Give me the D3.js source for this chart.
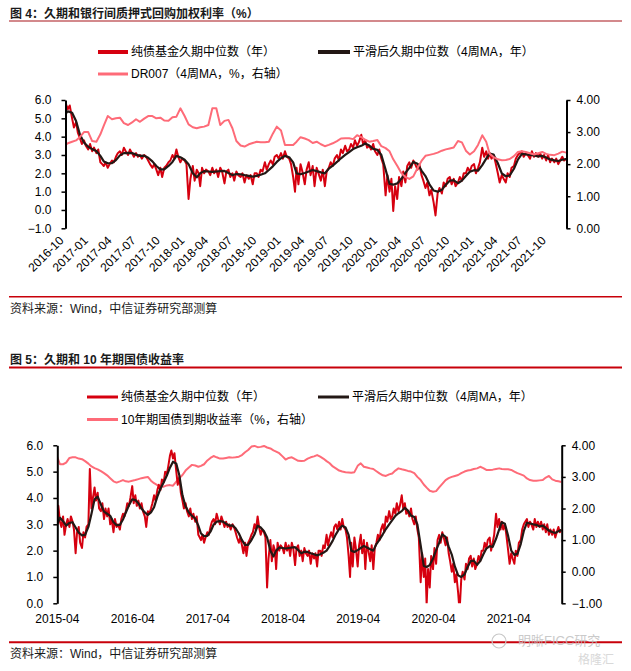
<!DOCTYPE html>
<html>
<head>
<meta charset="utf-8">
<script src="https://cdn.jsdelivr.net/npm/d3@7"></script>
<style>
  body { margin: 0; background: #fff; }
</style>
</head>
<body>
<svg id="chart" width="631" height="671"></svg>
<script>
// fund duration median, weekly readings (days 1, 8, 16, 23 of each month), from 2015-04
var durStart = "2015-04";
var durRaw = [
  3.0, 3.7, 3.1, 2.9,   3.3, 2.6, 3.0, 3.2,   2.9, 3.3, 3.1, 2.8,   // 2015-04..06
  1.9, 2.7, 2.9, 2.3,   2.1, 2.7, 2.5, 2.9,   3.0, 5.1, 3.6, 4.0,   // 2015-07..09
  4.4, 3.9, 4.2, 3.6,   3.5, 3.8, 3.2, 3.6,   3.3, 3.6, 3.0, 3.2,   // 2015-10..12
  2.7, 3.2, 2.9, 3.0,   2.8, 3.2, 3.4, 3.3,   3.5, 3.8, 3.7, 4.0,   // 2016-01..03
  4.45, 3.8, 4.1, 3.7,  3.9, 3.6, 3.8, 3.5,   3.3, 2.9, 3.5, 3.4,   // 2016-04..06
  3.6, 3.8, 4.1, 3.9,   4.3, 4.5, 4.3, 4.7,   4.6, 5.0, 4.9, 5.2,   // 2016-07..09
  5.6, 5.8, 5.5, 5.7,   5.0, 4.5, 4.8, 4.2,   3.9, 3.6, 3.8, 3.5,   // 2016-10..12
  3.3, 3.6, 3.2, 3.4,   3.1, 3.3, 2.6, 2.5,   2.4, 2.6, 2.3, 2.5,   // 2017-01..03
  2.7, 2.6, 2.9, 3.1,   3.2, 3.0, 3.4, 3.2,   3.0, 3.3, 3.1, 2.9,   // 2017-04..06
  3.1, 2.9, 3.0, 2.8,   3.0, 2.9, 2.7, 2.5,   2.3, 2.5, 2.2, 1.9,   // 2017-07..09
  2.3, 1.8, 2.3, 2.4,   2.6, 2.7, 3.0, 2.8,   3.3, 2.9, 2.6, 2.8,   // 2017-10..12
  2.7, 2.5, 0.6, 1.7,   2.4, 1.6, 2.2, 2.0,   1.3, 2.3, 2.0, 2.2,   // 2018-01..03
  2.1, 1.9, 2.3, 2.0,   2.2, 1.8, 2.3, 2.1,   1.45, 2.1, 2.2, 1.8,  // 2018-04..06
  2.0, 1.6, 2.1, 1.9,   1.8, 2.0, 1.5, 1.9,   1.7, 1.9, 1.4, 2.0,   // 2018-07..09
  2.0, 1.8, 2.2, 2.1,   2.6, 2.2, 2.5, 2.7,   2.5, 2.9, 3.0, 2.8,   // 2018-10..12
  3.1, 2.8, 3.2, 2.9,   2.8, 2.5, 1.8, 1.0,   2.3, 1.4, 2.5, 2.1,   // 2019-01..03
  1.4, 2.2, 2.6, 1.9,   2.4, 1.3, 2.3, 2.0,   1.6, 2.2, 1.3, 2.1,   // 2019-04..06
  2.3, 2.6, 2.4, 2.8,   3.0, 2.7, 3.3, 3.1,   3.5, 3.2, 3.3, 3.6,   // 2019-07..09
  3.4, 3.8, 3.5, 3.7,   4.1, 3.6, 3.8, 3.4,   3.5, 3.3, 3.6, 3.2,   // 2019-10..12
  3.0, 3.3, 2.8, 2.5,   0.8, 1.9, 1.0, 1.7,   -0.05, 1.3, 0.6, 1.8, // 2020-01..03
  1.3, 2.1, 1.5, 2.4,   2.6, 2.3, 2.7, 2.5,   2.2, 2.5, 1.9, 1.6,   // 2020-04..06
  1.2, 1.5, 0.8, 1.1,   0.4, -0.3, 0.9, 1.2,  0.9, 1.5, 1.3, 1.7,   // 2020-07..09
  1.8, 1.4, 1.7, 1.3,   1.5, 1.8, 1.6, 2.0,   2.0, 2.3, 2.1, 2.4,   // 2020-10..12
  2.5, 2.0, 2.3, 2.6,   3.4, 2.9, 3.2, 2.8,   3.1, 2.8, 3.0, 2.6,   // 2021-01..03
  2.0, 1.5, 1.9, 1.7,   1.5, 2.0, 1.8, 2.3,   2.4, 2.8, 3.0, 3.1,   // 2021-04..06
  3.2, 2.9, 3.1, 3.0,   2.8, 3.2, 2.9, 3.1,   2.9, 3.1, 2.8, 3.0,   // 2021-07..09
  2.7, 3.0, 2.6, 2.8,   2.6, 2.8, 2.5, 2.7,   2.9, 2.7, 2.8         // 2021-10..12
];

// smoothed duration (4 week MA), half-monthly readings (days 1, 16), from 2015-04
var durSmooth = [
  2.97, 3.25,  3.12, 2.95,  3.05, 3.08,  2.88, 2.68,  2.58, 2.60,  2.90, 3.40,   // 2015-04..09
  3.95, 4.05,  3.75, 3.48,  3.40, 3.32,                                          // 2015-10..12
  3.08, 2.97,  2.98, 3.18,  3.45, 3.72,  3.95, 3.92,  3.80, 3.60,  3.45, 3.36,   // 2016-01..06
  3.45, 3.65,  4.05, 4.35,  4.60, 4.85,  5.15, 5.38,  5.30, 4.85,  4.10, 3.68,   // 2016-07..12
  3.45, 3.32,  3.22, 2.95,  2.65, 2.55,  2.56, 2.72,  2.98, 3.10,  3.12, 3.10,   // 2017-01..06
  3.02, 2.95,  2.96, 2.85,  2.65, 2.40,  2.22, 2.22,  2.40, 2.62,  2.95, 2.88,   // 2017-07..12
  2.74, 2.50,  2.00, 1.78,  2.00, 2.12,  2.10, 2.08,  2.10, 2.12,  2.13, 2.02,   // 2018-01..06
  1.90, 1.96,  1.95, 1.90,  1.86, 1.82,  1.86, 1.92,  2.00, 2.18,  2.38, 2.62,   // 2018-07..12
  2.82, 2.95,  2.88, 2.60,  2.00, 1.95,  2.02, 2.10,  2.18, 2.12,  2.05, 2.00,   // 2019-01..06
  2.25, 2.42,  2.62, 2.82,  3.00, 3.16,  3.32, 3.42,  3.50, 3.63,  3.52, 3.33,   // 2019-07..12
  3.28, 3.00,  2.20, 1.42,  1.38, 1.45,  1.70, 2.02,  2.30, 2.62,  2.52, 2.15,   // 2020-01..06
  1.85, 1.40,  1.06, 1.00,  1.10, 1.38,  1.60, 1.62,  1.46, 1.60,  1.85, 2.08,   // 2020-07..12
  2.17, 2.14,  2.45, 2.80,  3.08, 3.02,  2.55, 2.00,  1.84, 1.88,  2.25, 2.75,   // 2021-01..06
  3.06, 3.03,  3.00, 2.98,  2.92, 2.95,  2.86, 2.76,  2.71, 2.67,  2.74, 2.78    // 2021-07..12
];

// DR007 4 week MA (%), half-monthly readings, from 2016-10
var drStart = "2016-10";
var dr007 = [
  2.58, 2.65,  2.70, 2.74,  2.85, 3.00,                                          // 2016-10..12
  3.00, 2.72,  2.70, 2.93,  3.20, 3.50,  3.40, 3.43,  3.45, 3.28,  3.22, 3.30,   // 2017-01..06
  3.40, 3.32,  3.42, 3.50,  3.50, 3.43,  3.45, 3.36,  3.35, 3.46,  3.48, 3.74,   // 2017-07..12
  3.50, 3.24,  3.15, 3.12,  3.15, 3.17,  3.22, 3.74,  3.74, 3.22,  3.35, 3.38,   // 2018-01..06
  3.12, 2.72,  2.58, 2.55,  2.62, 2.66,  2.70, 2.68,  2.68, 2.70,  2.95, 3.17,   // 2018-07..12
  3.05, 2.60,  2.60, 2.60,  2.70, 2.84,  2.80, 2.75,  2.66, 2.70,  2.62, 2.56,   // 2019-01..06
  2.60, 2.65,  2.72, 2.80,  2.81, 2.81,  2.78, 2.90,  2.84, 2.76,  2.70, 2.72,   // 2019-07..12
  2.75, 2.56,  2.50, 2.40,  2.15, 1.95,  1.72, 1.60,  1.54, 1.62,  1.88, 2.10,   // 2020-01..06
  2.26, 2.29,  2.32, 2.36,  2.42, 2.46,  2.49, 2.52,  2.72, 2.68,  2.42, 2.30,   // 2020-07..12
  2.40, 2.60,  2.90, 2.70,  2.32, 2.22,  2.15, 2.12,  2.13, 2.16,  2.25, 2.38,   // 2021-01..06
  2.40, 2.38,  2.34, 2.30,  2.34, 2.38,  2.32, 2.29,  2.28, 2.33,  2.39, 2.36    // 2021-07..12
];

// 10 year government bond yield (%), half-monthly readings, from 2015-04
var cgbStart = "2015-04";
var cgb10y = [
  3.66, 3.40,  3.40, 3.45,  3.60, 3.62,  3.62, 3.58,  3.56, 3.50,  3.42, 3.33,   // 2015-04..09
  3.28, 3.24,  3.18, 3.12,  3.05, 2.96,                                          // 2015-10..12
  2.86, 2.82,  2.86, 2.90,  2.86, 2.85,  2.88, 2.90,  2.93, 2.96,  2.98, 3.00,   // 2016-01..06
  2.88, 2.80,  2.74, 2.70,  2.69, 2.73,  2.74, 2.72,  2.85, 2.96,  3.06, 3.20,   // 2016-07..12
  3.30, 3.38,  3.36, 3.32,  3.35, 3.40,  3.52, 3.60,  3.66, 3.62,  3.58, 3.58,   // 2017-01..06
  3.60, 3.62,  3.61, 3.62,  3.64, 3.69,  3.78, 3.85,  3.96, 3.98,  3.94, 3.95,   // 2017-07..12
  3.98, 3.93,  3.90, 3.84,  3.80, 3.75,  3.65, 3.55,  3.60, 3.62,  3.56, 3.51,   // 2018-01..06
  3.50, 3.51,  3.58, 3.62,  3.65, 3.69,  3.64, 3.58,  3.50, 3.43,  3.33, 3.27,   // 2018-07..12
  3.20, 3.17,  3.15, 3.14,  3.13, 3.15,  3.35, 3.43,  3.32, 3.30,  3.27, 3.25,   // 2019-01..06
  3.18, 3.11,  3.05, 3.03,  3.08, 3.11,  3.20, 3.27,  3.24, 3.22,  3.19, 3.17,   // 2019-07..12
  3.12, 3.00,  2.90, 2.76,  2.66, 2.56,  2.53, 2.55,  2.67, 2.78,  2.90, 2.96,   // 2020-01..06
  3.00, 3.03,  3.06, 3.12,  3.17, 3.20,  3.22, 3.25,  3.27, 3.32,  3.28, 3.22,   // 2020-07..12
  3.22, 3.23,  3.25, 3.27,  3.25, 3.24,  3.24, 3.22,  3.17, 3.12,  3.08, 3.04,   // 2021-01..06
  2.95, 2.90,  2.88, 2.88,  2.89, 2.90,  2.98, 3.03,  2.92, 2.88,  2.86, 2.84    // 2021-07..12
];

var ticks1 = ["2016-10", "2017-01", "2017-04", "2017-07", "2017-10", "2018-01", "2018-04",
              "2018-07", "2018-10", "2019-01", "2019-04", "2019-07", "2019-10", "2020-01",
              "2020-04", "2020-07", "2020-10", "2021-01", "2021-04", "2021-07", "2021-10"];
var ticks2 = ["2015-04", "2016-04", "2017-04", "2018-04", "2019-04", "2020-04", "2021-04"];

var FONT = "'Liberation Sans', Arial, 'Noto Sans CJK SC', sans-serif";
var RED = '#d6000f', BLACK = '#231815', PINK = '#fe6b78';

var parseMonth = d3.timeParse('%Y-%m');
var parseDay = d3.timeParse('%Y-%m-%d');

function monthDates(start, n, days){
    var t0 = parseMonth(start);
    return d3.range(n).map(function(i){
        return new Date(t0.getFullYear(), t0.getMonth() + Math.floor(i / days.length), days[i % days.length]);
    });
}

function pairs(dates, values){
    return values.map(function(v, i){ return {date: dates[i], value: v}; });
}

var rawSeries = pairs(monthDates(durStart, durRaw.length, [1, 8, 16, 23]), durRaw);
var smoothSeries = pairs(monthDates(durStart, durSmooth.length, [1, 16]), durSmooth);
var drSeries = pairs(monthDates(drStart, dr007.length, [1, 16]), dr007);
var cgbSeries = pairs(monthDates(cgbStart, cgb10y.length, [1, 16]), cgb10y);

var svg = d3.select('#chart');
svg.append('rect').attr('width', 631).attr('height', 671).attr('fill', '#fff');

function addText(x, y, str, size, color, weight){
    return svg.append('text')
              .attr('x', x).attr('y', y)
              .attr('dominant-baseline', 'central')
              .style('font-family', FONT)
              .style('font-size', size + 'px')
              .style('font-weight', weight || 'normal')
              .attr('fill', color || '#000')
              .text(str);
}

function addRule(y, color, width){
    svg.append('line').attr('x1', 9).attr('x2', 622).attr('y1', y).attr('y2', y)
       .attr('stroke', color).attr('stroke-width', width);
}

function legendItem(x, y, len, color, sw, label){
    svg.append('line').attr('x1', x).attr('x2', x + len).attr('y1', y).attr('y2', y)
       .attr('stroke', color).attr('stroke-width', sw);
    addText(x + len + 3, y, label, 12, '#000');
}

function drawChart(cfg){
    var x = d3.scaleTime().domain(cfg.xDomain).range([cfg.left, cfg.right]);
    var yL = d3.scaleLinear().domain(cfg.yLeft).range([cfg.bottom, cfg.top]);
    var yR = d3.scaleLinear().domain(cfg.yRight).range([cfg.bottom, cfg.top]);

    svg.append('clipPath').attr('id', cfg.id)
       .append('rect')
       .attr('x', cfg.left).attr('y', cfg.top - 10)
       .attr('width', cfg.right - cfg.left).attr('height', cfg.bottom - cfg.top + 10);

    var plot = svg.append('g').attr('clip-path', 'url(#' + cfg.id + ')');

    cfg.series.forEach(function(s){
        var y = s.axis === 'R' ? yR : yL;
        var line = d3.line()
                     .x(function(d){ return x(d.date); })
                     .y(function(d){ return y(d.value); });
        plot.append('path')
            .datum(s.data)
            .attr('d', line)
            .attr('fill', 'none')
            .attr('stroke', s.color)
            .attr('stroke-width', s.width)
            .attr('stroke-linejoin', 'round');
    });

    var leftAxis = svg.append('g')
                      .attr('transform', 'translate(' + cfg.left + ',0)')
                      .call(d3.axisLeft(yL).tickValues(cfg.leftTicks)
                                            .tickFormat(d3.format('.1f'))
                                            .tickSize(4).tickSizeOuter(0).tickPadding(10));
    var rightAxis = svg.append('g')
                       .attr('transform', 'translate(' + cfg.right + ',0)')
                       .call(d3.axisRight(yR).tickValues(cfg.rightTicks)
                                              .tickFormat(d3.format('.2f'))
                                              .tickSize(4).tickSizeOuter(0).tickPadding(6));
    [leftAxis, rightAxis].forEach(function(a){
        a.select('.domain').attr('stroke', '#000').attr('stroke-width', 2);
        a.selectAll('.tick line').attr('stroke', '#000').attr('stroke-width', 1.5);
        a.selectAll('text').style('font-family', FONT).style('font-size', '12px').attr('fill', '#000');
    });

    var bottom = svg.append('g')
                    .attr('transform', 'translate(0,' + cfg.bottom + ')')
                    .call(d3.axisBottom(x).tickValues(cfg.xTicks.map(parseMonth))
                                          .tickFormat(d3.timeFormat('%Y-%m'))
                                          .tickSize(0).tickPadding(cfg.xPad));
    bottom.select('.domain').remove();
    bottom.selectAll('text').style('font-family', FONT).style('font-size', '12px').attr('fill', '#000');
    if (cfg.rotate){
        bottom.selectAll('text')
              .attr('y', 0).attr('dy', 0)
              .attr('text-anchor', 'end')
              .attr('transform', 'translate(0,' + cfg.xPad + ') rotate(-45)');
    }
}

// ---- chart 1
addText(10, 14, '图 4：久期和银行间质押式回购加权利率（%）', 12, '#1a1a1a', 'bold');
addRule(21, '#a8151a', 1.2);
legendItem(98, 52, 30, RED, 4, '纯债基金久期中位数（年）');
legendItem(318, 52, 32, BLACK, 4, '平滑后久期中位数（4周MA，年）');
legendItem(98, 74, 30, PINK, 3, 'DR007（4周MA，%，右轴）');

drawChart({
    id: 'clip1',
    left: 65.5, right: 566.5, top: 100, bottom: 228.3,
    xDomain: [parseDay('2016-10-07'), parseDay('2021-12-17')],
    yLeft: [-1, 6], yRight: [0, 4],
    leftTicks: [-1, 0, 1, 2, 3, 4, 5, 6],
    rightTicks: [0, 1, 2, 3, 4],
    xTicks: ticks1, xPad: 13, rotate: true,
    series: [
        {data: rawSeries, axis: 'L', color: RED, width: 2},
        {data: smoothSeries, axis: 'L', color: BLACK, width: 2.2},
        {data: drSeries, axis: 'R', color: PINK, width: 2}
    ]
});

addRule(296.7, '#c8000a', 1.5);
addText(10, 308.5, '资料来源：Wind，中信证券研究部测算', 12, '#1a1a1a');

// ---- chart 2
addText(10, 360, '图 5：久期和 10 年期国债收益率', 12, '#1a1a1a', 'bold');
addRule(367.5, '#c8000a', 2.2);
legendItem(87, 397, 31, RED, 3, '纯债基金久期中位数（年）');
legendItem(318, 397, 31, BLACK, 3, '平滑后久期中位数（4周MA，年）');
legendItem(87, 419.5, 31, PINK, 3, '10年期国债到期收益率（%，右轴）');

drawChart({
    id: 'clip2',
    left: 57.3, right: 561.7, top: 445.3, bottom: 603.3,
    xDomain: [parseDay('2015-04-03'), parseDay('2021-12-17')],
    yLeft: [0, 6], yRight: [-1, 4],
    leftTicks: [0, 1, 2, 3, 4, 5, 6],
    rightTicks: [-1, 0, 1, 2, 3, 4],
    xTicks: ticks2, xPad: 11, rotate: false,
    series: [
        {data: cgbSeries, axis: 'R', color: PINK, width: 2},
        {data: rawSeries, axis: 'L', color: RED, width: 2},
        {data: smoothSeries, axis: 'L', color: BLACK, width: 2.2}
    ]
});

addRule(642.3, '#c8000a', 2);
addText(10, 653.5, '资料来源：Wind，中信证券研究部测算', 12, '#1a1a1a');

// watermark
svg.append('circle').attr('cx', 499).attr('cy', 641).attr('r', 7)
   .attr('fill', 'none').attr('stroke', '#c8c8c8').attr('stroke-width', 1.2);
addText(518, 640, '明晰FICC研究', 13, '#bdbdbd').style('opacity', 0.8);
addText(578, 660, '格隆汇', 12, '#d0d0d0').style('opacity', 0.8);
</script>
</body>
</html>
